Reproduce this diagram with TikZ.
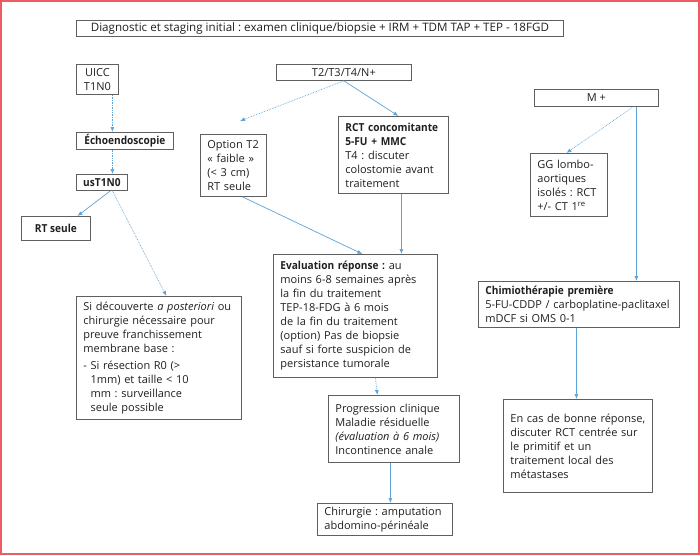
\documentclass[tikz,border=0pt]{standalone}
\usepackage{fontspec}
\setmainfont{Open Sans}[BoldFeatures={FakeStretch=0.92}]
\usepackage{xcolor}
\usetikzlibrary{arrows.meta}
\definecolor{arrowblue}{RGB}{91,163,217}
\definecolor{boxgray}{RGB}{95,95,95}
\definecolor{framered}{RGB}{238,92,98}
\frenchspacing

\begin{document}
\begin{tikzpicture}[x=1pt, y=-1pt,
        >={Latex[length=5pt,width=4pt]},
        box/.style={draw=boxgray, line width=0.8pt, anchor=north west, inner xsep=3pt, inner ysep=2pt,
            font=\fontsize{11}{14}\selectfont, text=black!88},
        leftbox/.style={box, align=left, execute at begin node={\leftskip=4pt\relax}},
        flow/.style={->, arrowblue, line width=0.7pt},
        maybe/.style={flow, densely dotted}]

        \useasboundingbox (0,0) rectangle (700,555);
        \draw[framered, line width=2pt] (1,1) rectangle (699,554);

        \node[box, minimum width=487, minimum height=16, font=\fontsize{11.6}{14}\selectfont] (diag) at (76,20)
            {Diagnostic et staging initial : examen clinique/biopsie + IRM + TDM TAP + TEP - 18FGD};

        \node[box, align=center, minimum width=42, minimum height=30] (uicc) at (76,64) {UICC\\T1N0};
        \node[box, minimum width=97, minimum height=16] (echo) at (76,132) {\textbf{Échoendoscopie}};
        \node[box, minimum width=51, minimum height=16] (ust) at (76,174) {\textbf{usT1N0}};
        \node[box, minimum width=69, minimum height=24] (rtseule) at (21,216) {\textbf{RT seule}};

        \node[leftbox, text width=159, minimum height=123] (sidec) at (76,296)
            {Si découverte \textit{a posteriori} ou\\chirurgie nécessaire pour\\preuve franchissement\\membrane base :\\[3pt]
             -~Si résection R0 (>\\\hphantom{-~}1mm) et taille < 10\\\hphantom{-~}mm : surveillance\\\hphantom{-~}seule possible\\[4pt]};

        \node[box, minimum width=135, minimum height=16] (tnplus) at (276,64) {T2/T3/T4/N+};
        \coordinate (optend) at (240,121);

        \node[leftbox, text width=60, minimum height=62] (option) at (200,134)
            {Option T2\\«~faible~»\\(<~3~cm)\\RT seule};
        \node[leftbox, text width=104, minimum height=77] (rct) at (338,116)
            {\textbf{RCT concomitante}\\\textbf{5-FU + MMC}\\T4 : discuter\\colostomie avant\\traitement};

        \node[leftbox, text width=158, minimum height=123] (eval) at (273,254)
            {\textbf{Evaluation réponse :} au\\moins 6-8 semaines après\\la fin du traitement\\TEP-18-FDG à 6 mois\\de la fin du traitement\\(option) Pas de biopsie\\sauf si forte suspicion de\\persistance tumorale};
        \node[leftbox, text width=125, minimum height=67] (prog) at (328,395)
            {Progression clinique\\Maladie résiduelle\\\textit{(évaluation à 6 mois)}\\Incontinence anale};
        \node[leftbox, text width=129, minimum height=32] (chir) at (317,503)
            {Chirurgie : amputation\\abdomino-périnéale};

        \node[box, minimum width=124, minimum height=17] (mplus) at (534,89) {M +};
        \node[leftbox, text width=71, minimum height=63] (gg) at (530,153)
            {GG lombo-\\aortiques\\isolés : RCT\\+/- CT 1\textsuperscript{re}};
        \node[leftbox, text width=195, minimum height=46] (chimio) at (478,281)
            {\textbf{Chimiothérapie première}\\5-FU-CDDP / carboplatine-paclitaxel\\mDCF si OMS 0-1};
        \node[leftbox, text width=143, minimum height=93] (encas) at (503,399)
            {En cas de bonne réponse,\\discuter RCT centrée sur\\le primitif et un\\traitement local des\\métastases\\[12pt]};

        \draw[maybe] ([xshift=15]uicc.south) -- ([xshift=-12.5]echo.north);
        \draw[maybe] ([xshift=-12.5]echo.south) -- ([xshift=10.5]ust.north);
        \draw[flow] ([xshift=8.5]ust.south) -- ([xshift=21.5]rtseule.north);
        \draw[maybe] ([xshift=10.5]ust.south) -- ([xshift=7.5]sidec.north);

        \draw[maybe] (tnplus.south) -- (optend);
        \draw[flow] (tnplus.south) -- ([xshift=5]rct.north);
        \draw[flow] ([xshift=9]option.south) -- ([xshift=7]eval.north);
        \draw[flow] ([xshift=8]rct.south) -- ([xshift=46]eval.north);
        \draw[maybe] ([xshift=20]eval.south) -- ([xshift=-16.5]prog.north);
        \draw[flow] ([xshift=-3.5]prog.south) -- ([xshift=5.5]chir.north);

        \draw[maybe] ([xshift=37]mplus.south) -- ([xshift=-2.5]gg.north);
        \draw[flow] ([xshift=40]mplus.south) -- ([xshift=57.5]chimio.north);
        \draw[flow] ([xshift=-2.5]chimio.south) -- ([xshift=-1.5]encas.north);

    \end{tikzpicture}
\end{document}
